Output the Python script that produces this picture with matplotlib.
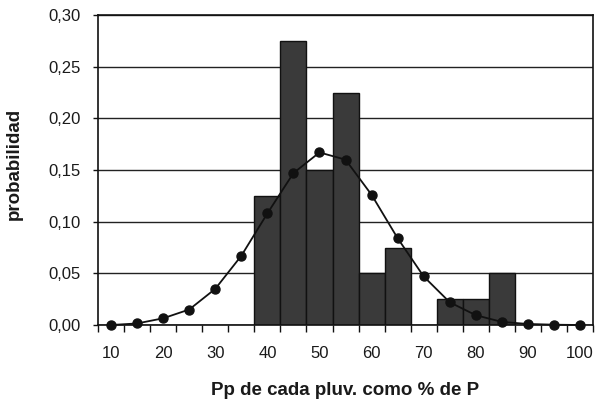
import numpy as np
import matplotlib
matplotlib.use("Agg")
import matplotlib.pyplot as plt

# ---------- data ----------
classes = [10, 15, 20, 25, 30, 35, 40, 45, 50, 55, 60, 65, 70, 75, 80, 85, 90, 95, 100]
freq = [0, 0, 0, 0, 0, 0, 0.125, 0.275, 0.15, 0.225, 0.05, 0.075, 0,
        0.025, 0.025, 0.05, 0, 0, 0]
model = [0.000, 0.0015, 0.0065, 0.015, 0.035, 0.067, 0.108, 0.147, 0.167,
         0.160, 0.126, 0.084, 0.047, 0.022, 0.0095, 0.003, 0.001, 0.0003, 0.0]
xtick_labels = [10, 20, 30, 40, 50, 60, 70, 80, 90, 100]

plt.rcParams['font.family'] = ['Liberation Sans', 'DejaVu Sans']

fig = plt.figure(figsize=(5.98, 4.0), dpi=100)
ax = fig.add_axes([0.164, 0.1875, 0.8276, 0.775])

step = 5
ax.bar(classes, freq, width=step, color='#3a3a3a', edgecolor='#111111',
       linewidth=1.0, zorder=2)
ax.plot(classes, model, color='#111111', lw=1.3, marker='o', ms=6.5,
        mfc='#111111', mec='#111111', zorder=3, clip_on=False)

ax.set_xlim(classes[0] - step / 2, classes[-1] + step / 2)
ax.set_ylim(0, 0.30)
yt = np.arange(0, 0.301, 0.05)
ax.set_yticks(yt)
ax.set_yticklabels([f"{v:.2f}".replace('.', ',') for v in yt])
ax.yaxis.grid(True, color='#222222', lw=1.0)
ax.set_axisbelow(True)

# ticks at class boundaries, labels every other class
bounds = np.arange(classes[0] - step / 2, classes[-1] + step, step)
ax.set_xticks(bounds)
ax.set_xticklabels([])
ax.set_xticks(xtick_labels, minor=True)
ax.set_xticklabels([str(v) for v in xtick_labels], minor=True)
ax.tick_params(axis='x', which='minor', length=0, pad=15)
ax.tick_params(axis='x', which='major', length=5, width=1.0, color='#111111')
ax.tick_params(axis='y', length=3.6, width=1.0, color='#111111', pad=9)
ax.tick_params(which='both', labelsize=12, labelcolor='#1a1a1a')

for s in ax.spines.values():
    s.set_color('#111111')
    s.set_linewidth(1.2)

ax.set_ylabel('probabilidad', fontsize=13.5, fontweight='bold', color='#1a1a1a')
ax.yaxis.set_label_coords(-0.153, 0.52)
ax.set_xlabel('Pp de cada pluv. como % de P', fontsize=13.5, fontweight='bold',
              color='#1a1a1a')
ax.xaxis.set_label_coords(0.499, -0.184)
ax.xaxis.label.set_va('top')

fig.savefig('out.png', dpi=100, facecolor='white')
